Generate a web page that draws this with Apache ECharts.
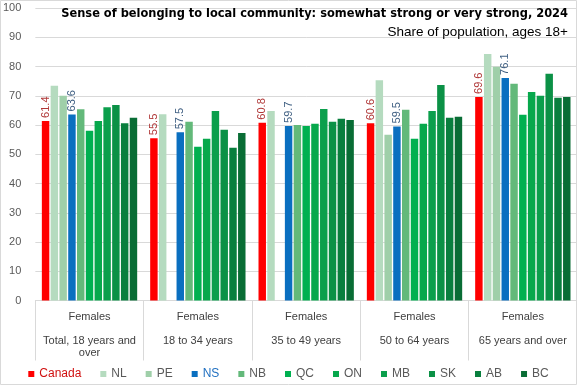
<!DOCTYPE html>
<html><head><meta charset="utf-8">
<script src="https://cdn.jsdelivr.net/npm/echarts@6/dist/echarts.min.js"></script>
<style>html,body{margin:0;padding:0;background:#fff}#c{width:577px;height:385px}</style>
</head><body><div id="c"></div>
<script>
const sexLabel = 'Females';
const ageGroups = ['Total, 18 years and\nover', '18 to 34 years', '35 to 49 years', '50 to 64 years', '65 years and over'];
const regions = ['Canada', 'NL', 'PE', 'NS', 'NB', 'QC', 'ON', 'MB', 'SK', 'AB', 'BC'];
const Canada = [61.4, 55.5, 60.8, 60.6, 69.6];
const NL = [73.4, 63.7, 64.8, 75.3, 84.3];
const PE = [70.0, null, null, 56.7, 79.9];
const NS = [63.6, 57.5, 59.7, 59.5, 76.1];
const NB = [65.4, 61.1, 60.0, 65.2, 74.1];
const QC = [58.0, 52.6, 59.7, 55.3, 63.5];
const ON = [61.4, 55.3, 60.4, 60.4, 71.3];
const MB = [66.1, 64.8, 65.5, 64.8, 70.0];
const SK = [66.8, 58.4, 61.1, 73.7, 77.5];
const AB = [60.6, 52.2, 62.1, 62.5, 69.3];
const BC = [62.5, 57.3, 61.7, 62.8, 69.6];
const yTicks = {min: 0, max: 100, interval: 10};

const values = {Canada, NL, PE, NS, NB, QC, ON, MB, SK, AB, BC};
const colors = {Canada:'#ff0000', NL:'#b5dbbf', PE:'#9fcfa9', NS:'#0a6fc0', NB:'#63b97a', QC:'#00b050', ON:'#07a84c', MB:'#0b9f4c', SK:'#0b9146', AB:'#097f3e', BC:'#096d35'};
const labelColors = {Canada:'#b03838', NS:'#3f5f82'};

const chart = echarts.init(document.getElementById('c'), null, {renderer:'canvas'});
const series = regions.map(r => ({
  name: r, type: 'bar', data: values[r],
  itemStyle: {color: colors[r]},
  barGap: '18%', barCategoryGap: '12%',
  label: labelColors[r] ? {show: true, position: 'top', rotate: 90, align: 'left', verticalAlign: 'middle', distance: 3,
    color: labelColors[r], fontSize: 11, fontFamily: 'Liberation Sans', formatter: p => p.value.toFixed(1)} : {show: false}
}));
chart.setOption({
  animation: false,
  title: [
    {text: 'Sense of belonging to local community: somewhat strong or very strong, 2024', right: 4, top: 2,
      textStyle: {fontFamily: "'DejaVu Sans Condensed', 'Liberation Sans'", fontWeight: 'bold', fontSize: 12.7, color: '#000'}},
    {text: 'Share of population, ages 18+', right: 4, top: 20,
      textStyle: {fontFamily: 'Liberation Sans', fontWeight: 'normal', fontSize: 13.5, color: '#000'}}
  ],
  grid: {left: 32, right: 0, top: 8, bottom: 84.5},
  legend: {
    bottom: 0, left: 'center', icon: 'rect', itemWidth: 6, itemHeight: 6, itemGap: 19, width: 570,
    textStyle: {fontSize: 12, color: '#595959', fontFamily: 'Liberation Sans'},
    data: regions.map(r => r === 'Canada' ? {name: r, textStyle: {color: '#d01010'}} : r === 'NS' ? {name: r, textStyle: {color: '#1f6fc0'}} : {name: r})
  },
  xAxis: {
    type: 'category', data: ageGroups,
    axisLine: {show: true, lineStyle: {color: '#d9d9d9'}},
    axisTick: {show: true, length: 60, interval: 0, lineStyle: {color: '#d9d9d9'}},
    axisLabel: {interval: 0, margin: 10, fontSize: 11, lineHeight: 12, color: '#404040', fontFamily: 'Liberation Sans',
      formatter: v => sexLabel + '\n\n' + v}
  },
  yAxis: {
    type: 'value', min: yTicks.min, max: yTicks.max, interval: yTicks.interval,
    axisLine: {show: false}, axisTick: {show: false},
    splitLine: {lineStyle: {color: '#d9d9d9'}},
    axisLabel: {color: '#595959', fontSize: 11, margin: 14, fontFamily: 'Liberation Sans'}
  },
  graphic: [{type: 'rect', shape: {x: 0.5, y: 0.5, width: 576, height: 384}, style: {fill: null, stroke: '#d9d9d9'}, silent: true, z: -1}],
  series
});
</script></body></html>
